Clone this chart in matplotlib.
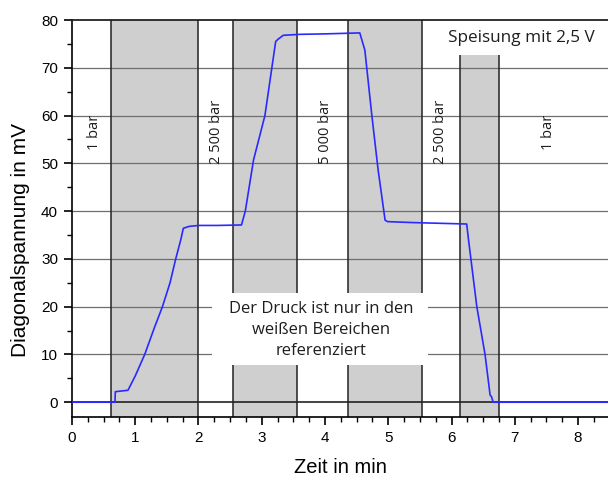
import numpy as np
import matplotlib
matplotlib.use('Agg')
import matplotlib.pyplot as plt
from matplotlib.patches import Rectangle

# Messkurve
zeit = [0.0, 0.68, 0.685, 0.75, 0.885, 1.0, 1.15, 1.3, 1.43, 1.55, 1.64, 1.72, 1.76,
        1.85, 2.0, 2.3, 2.68, 2.74, 2.87, 3.05, 3.22, 3.26, 3.34, 3.6, 4.0, 4.55,
        4.63, 4.74, 4.84, 4.95, 4.99, 5.39, 6.24, 6.27, 6.40, 6.53, 6.61, 6.63, 6.66, 8.47]
spannung = [0.0, 0.0, 2.2, 2.3, 2.5, 5.5, 10.0, 15.5, 20.0, 25.0, 30.0, 34.0, 36.4,
            36.8, 37.0, 37.0, 37.1, 40.0, 50.7, 60.0, 75.5, 76.0, 76.8, 77.0, 77.1, 77.3,
            73.7, 60.1, 48.6, 38.1, 37.8, 37.6, 37.3, 33.9, 20.0, 10.0, 1.5, 1.2, 0.0, 0.0]

# graue Bereiche (Start, Ende, obere Grenze in mV)
bereiche = [(0.617, 2.0, 80), (2.55, 3.56, 80), (4.36, 5.53, 80), (6.14, 6.75, 72.7)]

# Druckangaben
druck_labels = ['1 bar', '2 500 bar', '5 000 bar', '2 500 bar', '1 bar']
druck_x = [0.35, 2.29, 4.0, 5.82, 7.53]

ymin, ymax = -3.1, 80
xmax = 8.474
txt = '#1e1e1e'

fig = plt.figure(figsize=(6.08, 4.79), dpi=100)
ax = fig.add_axes([0.1184, 0.1294, 0.8816, 0.8288])
ax.set_xlim(0, xmax)
ax.set_ylim(ymin, ymax)

for x0, x1, top in bereiche:
    ax.fill_between([x0, x1], ymin, top, color='#cfcfcf', lw=0, zorder=0)
    ax.vlines([x0, x1], ymin, top, color='#222222', lw=1.1, zorder=2)

for y in range(10, 80, 10):
    ax.axhline(y, color='#6e6e6e', lw=0.9, zorder=1)
ax.axhline(0, color='#111111', lw=1.1, zorder=1)

ax.plot(zeit, spannung, color='#2a2aff', lw=1.2, zorder=3)

for lab, x in zip(druck_labels, druck_x):
    ax.text(x, 56.5, lab, rotation=90, ha='center', va='center', fontsize=10.5,
            family='Open Sans', color=txt, zorder=4)

# weisses Feld fuer den Hinweis
ax.add_patch(Rectangle((2.21, 7.7), 5.63 - 2.21, 22.8 - 7.7, fc='white', ec='none', zorder=5))
ax.text(3.94, 15.1, 'Der Druck ist nur in den\nweißen Bereichen\nreferenziert',
        ha='center', va='center', fontsize=12, family='Open Sans', linespacing=1.45,
        color=txt, zorder=6)
ax.text(7.11, 76.2, 'Speisung mit 2,5 V', ha='center', va='center', fontsize=12.3,
        family='Open Sans', color=txt, zorder=6)

ax.axhline(80, color='#222222', lw=1.3, zorder=7, clip_on=False)

for s in ['top', 'right']:
    ax.spines[s].set_visible(False)
for s in ['left', 'bottom']:
    ax.spines[s].set_linewidth(1.2)

ax.set_xticks(range(0, 9))
ax.set_xticks(np.arange(0, 8.5, 0.25), minor=True)
ax.set_yticks(range(0, 81, 10))
ax.set_yticks(range(0, 81, 5), minor=True)
ax.tick_params(which='major', direction='out', length=6, width=1.2, labelsize=11, pad=4)
ax.tick_params(which='minor', direction='out', length=3.5, width=1.0)
for t in ax.get_xticklabels() + ax.get_yticklabels():
    t.set_family('Liberation Sans')

ax.set_xlabel('Zeit in min', fontsize=14.5, family='Liberation Sans')
ax.set_ylabel('Diagonalspannung in mV', fontsize=15, family='Liberation Sans')
ax.xaxis.set_label_coords(0.501, -0.103)
ax.yaxis.set_label_coords(-0.078, 0.446)

fig.savefig('out.png', dpi=100)
